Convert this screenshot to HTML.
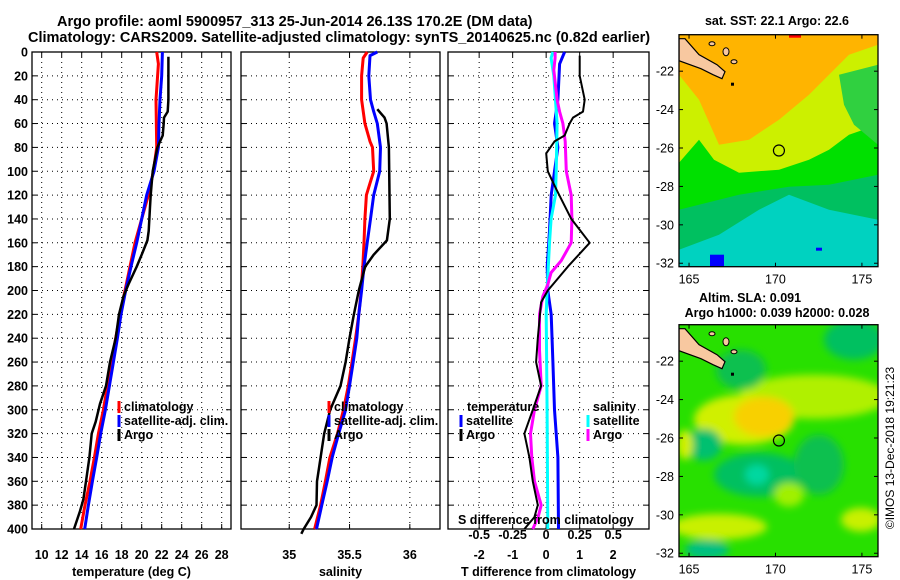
<!DOCTYPE html>
<html><head><meta charset="utf-8"><style>
html,body{margin:0;padding:0;background:#fff;}
svg{display:block;font-family:"Liberation Sans",sans-serif;font-weight:bold;}
</style></head><body>
<svg id="c" width="900" height="580" viewBox="0 0 900 580" xmlns="http://www.w3.org/2000/svg">
<text x="57" y="26" font-size="14.5">Argo profile: aoml 5900957_313 25-Jun-2014 26.13S 170.2E (DM data)</text>
<text x="28" y="42" font-size="14.5">Climatology: CARS2009. Satellite-adjusted climatology: synTS_20140625.nc (0.82d earlier)</text>
<g id="p1"></g>
<g id="p2"></g>
<g id="p3"></g>
<g id="m1"></g>
<g id="m2"></g>
<text transform="translate(894,448) rotate(-90)" text-anchor="middle" font-size="12" font-weight="normal">©IMOS 13-Dec-2018 19:21:23</text>
</svg>
<script>
// ---- data ----
const depthTicks=[0,20,40,60,80,100,120,140,160,180,200,220,240,260,280,300,320,340,360,380,400];
const tempTicks=[10,12,14,16,18,20,22,24,26,28];
const salTicks=[35,35.5,36];
const salTickLabels=["35","35.5","36"];
const tdiffTicks=[-2,-1,0,1,2];
const sdiffTicks=[-0.5,-0.25,0,0.25,0.5];
const sdiffTickLabels=["-0.5","-0.25","0","0.25","0.5"];

const climTD=[0,10,40,80,100,120,140,160,180,200,220,240,260,280,300,320,340,360,380,400];
const climT=[21.5,21.67,21.43,21.5,21.17,20.67,20.0,19.33,18.83,18.33,17.83,17.4,17.0,16.57,16.17,15.67,15.27,14.83,14.33,13.9];
const satTD=[0,20,40,60,80,100,120,140,160,180,200,220,240,260,280,300,320,340,360,380,400];
const satT=[22.07,22.0,21.83,21.73,21.67,21.23,20.5,20.0,19.5,18.93,18.4,17.93,17.57,17.17,16.77,16.37,15.9,15.5,15.07,14.67,14.3];
const argoTD=[4,20,40,50,55,60,70,80,100,120,130,150,158,170,180,195,205,220,240,260,280,295,310,320,340,360,375,385,400];
const argoT=[22.67,22.67,22.67,22.6,22.23,22.2,22.1,21.57,21.1,20.9,20.83,20.7,20.57,20.0,19.5,18.67,18.17,17.73,17.4,16.83,16.43,15.83,15.4,15.0,14.77,14.43,14.17,13.83,13.23];

const climSD=[0,5,20,40,60,75,80,100,110,120,140,160,180,200,220,240,260,280,300,320,340,360,380,400];
const climS=[35.646,35.613,35.60,35.60,35.627,35.67,35.69,35.70,35.67,35.64,35.627,35.62,35.61,35.597,35.577,35.55,35.52,35.49,35.45,35.40,35.337,35.30,35.26,35.21];
const satSD=[0,3,20,40,50,60,80,100,120,140,160,180,200,220,240,260,280,300,320,340,360,380,400];
const satS=[35.73,35.67,35.66,35.674,35.70,35.73,35.757,35.75,35.70,35.674,35.646,35.62,35.60,35.577,35.56,35.53,35.50,35.467,35.41,35.356,35.315,35.27,35.226];
const argoSD=[48,55,60,80,140,158,170,180,200,220,240,260,280,300,320,340,360,380,390,400,404];
const argoS=[35.73,35.79,35.807,35.826,35.834,35.81,35.70,35.63,35.577,35.536,35.50,35.467,35.425,35.34,35.29,35.26,35.23,35.226,35.18,35.12,35.10];

const dTD=[3,20,40,50,55,60,70,75,85,100,115,140,160,180,200,210,240,260,280,300,320,340,360,380,390,400];
const argoTdiff=[1.0,1.0,1.15,1.1,0.8,0.7,0.55,0.25,0.0,0.05,0.3,0.75,1.3,0.65,0.05,-0.15,-0.25,-0.3,-0.15,-0.4,-0.65,-0.5,-0.4,-0.25,-0.35,-0.65];
const sTD=[0,10,40,60,80,100,120,150,180,200,220,260,300,340,400];
const satTdiff=[0.55,0.4,0.35,0.25,0.35,0.25,0.15,0.1,0.03,0.05,0.15,0.2,0.25,0.35,0.37];
const cSD=[0,5,20,60,100,120,140,160,200,220,300,400];
const satSdiff=[0.05,0.037,0.057,0.082,0.075,0.07,0.037,0.025,0.007,0,0.007,0.012];
const mSD=[0,5,15,40,50,60,75,100,120,140,160,175,185,195,205,220,250,280,300,320,340,360,380,390,400];
const argoSdiff=[0.067,0.067,0.057,0.082,0.1,0.125,0.142,0.15,0.187,0.192,0.187,0.112,0.037,0.012,-0.025,-0.05,-0.05,-0.037,-0.087,-0.117,-0.107,-0.087,-0.037,-0.06,-0.1];

const lonTicks=[165,170,175];
const latTicks=[-22,-24,-26,-28,-30,-32];
const argoLon=170.2, argoLat=-26.13;

// ---- helpers ----
const NS="http://www.w3.org/2000/svg";
function mk(p,tag,at,txt){const e=document.createElementNS(NS,tag);for(const k in at)e.setAttribute(k,at[k]);if(txt!==undefined)e.textContent=txt;p.appendChild(e);return e;}
const TOP=52,BOT=529;
const yD=d=>TOP+d*(BOT-TOP)/400;

function panel(g,x0,x1,xmin,xmax,ticks,labels,xlabel,grid,depthLabels){
  const xs=v=>x0+(v-xmin)/(xmax-xmin)*(x1-x0);
  depthTicks.forEach(d=>{
    const y=yD(d);
    if(d>0&&d<400){const l=mk(g,'line',{x1:x0,x2:x1,y1:y,y2:y,stroke:'#000','stroke-width':1,'stroke-dasharray':'1,4'});}
    mk(g,'line',{x1:x0,x2:x0+5,y1:y,y2:y,stroke:'#000'});
    mk(g,'line',{x1:x1,x2:x1-5,y1:y,y2:y,stroke:'#000'});
    if(depthLabels){const t=mk(g,'text',{x:x0-4,y:y+4.5,'text-anchor':'end','font-size':12.5},String(d));}
  });
  ticks.forEach((v,i)=>{
    const x=xs(v);
    if(grid){const l=mk(g,'line',{x1:x,x2:x,y1:TOP,y2:BOT,stroke:'#000','stroke-dasharray':'1,4'});}
    mk(g,'line',{x1:x,x2:x,y1:BOT,y2:BOT-5,stroke:'#000'});
    mk(g,'line',{x1:x,x2:x,y1:TOP,y2:TOP+5,stroke:'#000'});
    const t=mk(g,'text',{x:x,y:559,'text-anchor':'middle','font-size':12.5},labels[i]);
    
  });
  const f=mk(g,'rect',{x:x0,y:TOP,width:x1-x0,height:BOT-TOP,fill:'none',stroke:'#000','stroke-width':1.3});
  
  const xl=mk(g,'text',{x:(x0+x1)/2,y:576,'text-anchor':'middle','font-size':12.5},xlabel);
  
  return xs;
}
function line(g,xs,vals,depths,color,w,name){
  const pts=vals.map((v,i)=>xs(v).toFixed(1)+','+yD(depths[i]).toFixed(1)).join(' ');
  const p=mk(g,'polyline',{points:pts,fill:'none',stroke:color,'stroke-width':w,'stroke-linejoin':'round'});
  
  
}
function legend(g,x,y,color,label,name){
  mk(g,'rect',{x:x-1.5,y:y-10,width:3,height:12,fill:color});
  const t=mk(g,'text',{x:x+5,y:y,'font-size':12.5},label);
  
  
}

// panel 1
const g1=document.getElementById('p1');
const xT=panel(g1,32,231,9.03,28.93,tempTicks,tempTicks.map(String),'temperature (deg C)',true,true);
line(g1,xT,climT,climTD,'#f00',3,'climatology-temperature-line');
line(g1,xT,satT,satTD,'#00f',3,'satellite-temperature-line');
line(g1,xT,argoT,argoTD,'#000',2.5,'argo-temperature-line');
legend(g1,119,411,'#f00','climatology','legend-climatology');
legend(g1,119,425,'#00f','satellite-adj. clim.','legend-satellite');
legend(g1,119,439,'#000','Argo','legend-argo');

// panel 2
const g2=document.getElementById('p2');
const xS=panel(g2,241,440,34.6,36.25,salTicks,salTickLabels,'salinity',true,false);
line(g2,xS,climS,climSD,'#f00',3,'climatology-salinity-line');
line(g2,xS,satS,satSD,'#00f',3,'satellite-salinity-line');
line(g2,xS,argoS,argoSD,'#000',2.5,'argo-salinity-line');
legend(g2,329,411,'#f00','climatology','legend-climatology');
legend(g2,329,425,'#00f','satellite-adj. clim.','legend-satellite');
legend(g2,329,439,'#000','Argo','legend-argo');

// panel 3
const g3=document.getElementById('p3');
const xD=panel(g3,448,649,-2.93,3.07,tdiffTicks,tdiffTicks.map(String),'T difference from climatology',true,false);
const xSD=v=>xD(v*4);
line(g3,xD,satTdiff,sTD,'#00f',3,'satellite-temperature-diff-line');
line(g3,xSD,satSdiff,cSD,'#0ff',3,'satellite-salinity-diff-line');
line(g3,xSD,argoSdiff,mSD,'#f0f',3,'argo-salinity-diff-line');
line(g3,xD,argoTdiff,dTD,'#000',2,'argo-temperature-diff-line');
let tt=mk(g3,'text',{x:467,y:411,'font-size':12.5},'temperature');
tt=mk(g3,'text',{x:593,y:411,'font-size':12.5},'salinity');
legend(g3,461,425,'#00f','satellite','legend-temperature-satellite');
legend(g3,461,439,'#000','Argo','legend-temperature-argo');
legend(g3,588,425,'#0ff','satellite','legend-salinity-satellite');
legend(g3,588,439,'#f0f','Argo','legend-salinity-argo');
tt=mk(g3,'text',{x:458,y:524,'font-size':12.5},'S difference from climatology');
sdiffTicks.forEach((v,i)=>{const t=mk(g3,'text',{x:xSD(v),y:539,'text-anchor':'middle','font-size':12.5},sdiffTickLabels[i]);});

// maps
const MX0=679,MX1=878,LON0=164.42,LON1=175.93,LAT0=-20.1,LAT1=-32.18;
function map(g,y0,title1,title2,kind){
  const y1=y0+232,W=MX1-MX0;
  const lx=l=>MX0+(l-LON0)/(LON1-LON0)*W;
  const ly=l=>y0+(l-LAT0)/(LAT1-LAT0)*232;
  const cid='clip'+kind;
  const cp=mk(g,'clipPath',{id:cid});mk(cp,'rect',{x:MX0,y:y0,width:W,height:232});
  const b=mk(g,'g',{'clip-path':'url(#'+cid+')'});
  const P=(pts,fill,name)=>{const p=mk(b,'polygon',{points:pts.map(q=>(MX0+q[0])+','+(y0+q[1])).join(' '),fill:fill});};
  if(kind==='sst'){
    mk(b,'rect',{x:MX0,y:y0,width:W,height:232,fill:'#00d2c0'});
    P([[0,0],[199,0],[199,185],[150,175],[110,160],[80,175],[40,200],[0,215]],'#00c060','sst-green-zone');
    P([[0,0],[199,0],[199,140],[150,150],[110,152],[60,160],[0,175]],'#00e000','sst-bright-green-zone');
    P([[0,0],[199,0],[199,90],[170,100],[150,115],[130,125],[100,135],[60,138],[35,125],[20,105],[0,128]],'#ccf000','sst-yellow-zone');
    P([[0,0],[199,0],[199,10],[170,20],[150,40],[130,60],[100,85],[70,105],[40,110],[20,65],[0,40]],'#ffb400','sst-orange-zone');
    P([[160,40],[199,30],[199,110],[175,90],[165,70]],'#30d040','sst-east-patch');
    mk(b,'rect',{x:MX0+31,y:y0+220,width:14,height:12,fill:'#0000ff'});
    mk(b,'rect',{x:MX0+137,y:y0+213,width:6,height:3,fill:'#0000ff'});
    mk(b,'rect',{x:MX0+110,y:y0,width:12,height:3,fill:'#ff0000'});
  } else {
    const f=mk(g,'filter',{id:'bl',x:'-20%',y:'-20%',width:'140%',height:'140%'});mk(f,'feGaussianBlur',{stdDeviation:4});
    mk(b,'rect',{x:MX0,y:y0,width:W,height:232,fill:'#28e000'});
    const bg=mk(b,'g',{filter:'url(#bl)'});
    const E=(cx,cy,rx,ry,c)=>mk(bg,'ellipse',{cx:MX0+cx,cy:y0+cy,rx:rx,ry:ry,fill:c});
    E(135,72,75,22,'#b0f000');E(65,95,50,25,'#d0f000');E(85,92,30,20,'#f8d000');
    E(80,150,45,22,'#00c060');E(78,150,12,10,'#00d8a0');E(25,120,18,16,'#00c070');
    E(175,15,30,20,'#00c060');E(62,45,25,20,'#10c050');E(140,140,25,30,'#10c050');
    E(40,202,48,13,'#c8f000');E(182,195,20,12,'#c8f000');E(28,225,22,10,'#00c080');
    E(110,170,15,12,'#a0f000');E(6,120,8,15,'#d0f000');
  }
  // land
  const land=mk(b,'polygon',{points:[[0,4],[6,4],[20,20],[38,30],[46,37],[43,44],[34,40],[22,34],[0,26]].map(q=>(MX0+q[0])+','+(y0+q[1])).join(' '),fill:'#f8c8a0',stroke:'#000','stroke-width':1.2});
  
  mk(b,'ellipse',{cx:MX0+33,cy:y0+9,rx:3,ry:2,fill:'#f8c8a0',stroke:'#000'});
  mk(b,'ellipse',{cx:MX0+47,cy:y0+17,rx:3,ry:4,fill:'#f8c8a0',stroke:'#000'});
  mk(b,'ellipse',{cx:MX0+55,cy:y0+27,rx:3,ry:2,fill:'#f8c8a0',stroke:'#000'});
  mk(b,'rect',{x:MX0+52,y:y0+48,width:3,height:3,fill:'#000'});
  const c=mk(g,'circle',{cx:lx(argoLon),cy:ly(argoLat),r:5.5,fill:'none',stroke:'#000','stroke-width':1.2});
  
  mk(g,'rect',{x:MX0,y:y0,width:W,height:232,fill:'none',stroke:'#000','stroke-width':1.3});
  lonTicks.forEach(l=>{const x=lx(l);mk(g,'line',{x1:x,x2:x,y1:y1,y2:y1-4,stroke:'#000'});mk(g,'line',{x1:x,x2:x,y1:y0,y2:y0+4,stroke:'#000'});
    const t=mk(g,'text',{x:x,y:y1+17,'text-anchor':'middle','font-size':12.5,'font-weight':'normal'},String(l));});
  latTicks.forEach(l=>{const y=ly(l);mk(g,'line',{x1:MX0,x2:MX0+4,y1:y,y2:y,stroke:'#000'});mk(g,'line',{x1:MX1,x2:MX1-4,y1:y,y2:y,stroke:'#000'});
    const t=mk(g,'text',{x:MX0-5,y:y+4.5,'text-anchor':'end','font-size':12.5,'font-weight':'normal'},String(l));});
  if(kind==='sst'){const t=mk(g,'text',{x:777,y:25,'text-anchor':'middle','font-size':12.5},title1);}
  else{let t=mk(g,'text',{x:750,y:302,'text-anchor':'middle','font-size':12.5},title1);
    t=mk(g,'text',{x:777,y:317,'text-anchor':'middle','font-size':12.5},title2);}
}
map(document.getElementById('m1'),34.7,'sat. SST: 22.1 Argo: 22.6','', 'sst');
map(document.getElementById('m2'),324.7,'Altim. SLA: 0.091','Argo h1000: 0.039 h2000: 0.028','sla');
</script>
</body></html>
